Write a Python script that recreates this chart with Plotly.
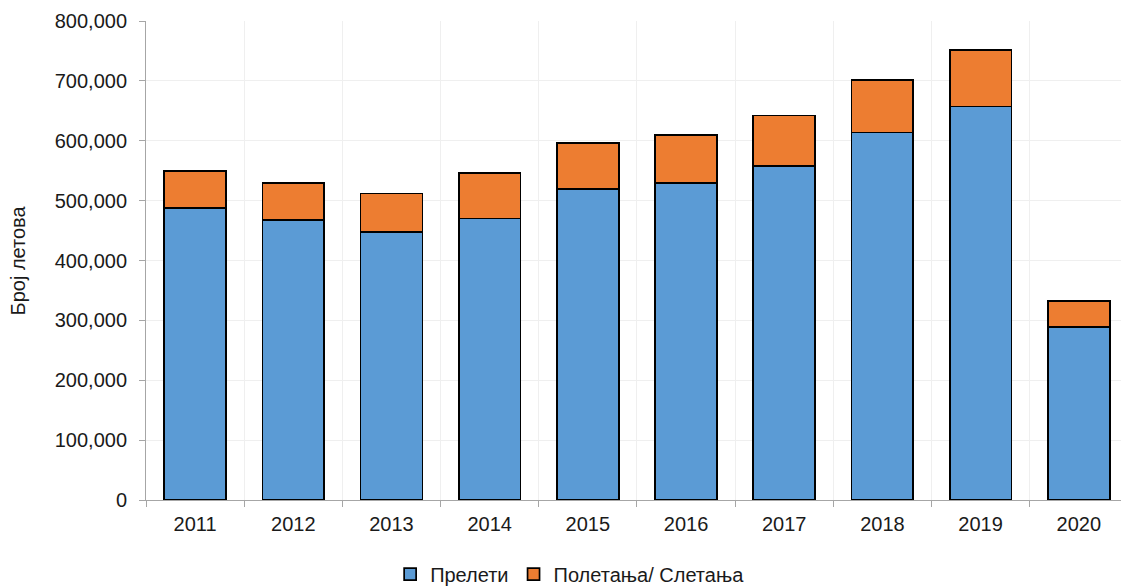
import plotly.graph_objects as go

years = ["2011", "2012", "2013", "2014", "2015", "2016", "2017", "2018", "2019", "2020"]
overflights = [488000, 468000, 448000, 470000, 519000, 530000, 558000, 614000, 657000, 289000]
departures_arrivals = [62000, 61000, 64000, 76000, 77000, 80000, 84000, 88000, 95000, 43000]
y_ticks = [0, 100000, 200000, 300000, 400000, 500000, 600000, 700000, 800000]

FONT = "Liberation Sans, Arial, sans-serif"

fig = go.Figure()
fig.add_trace(go.Bar(
    x=years, y=overflights, name="Прелети",
    marker=dict(color="#5B9BD5", line=dict(color="#000000", width=1.7)),
))
fig.add_trace(go.Bar(
    x=years, y=departures_arrivals, name="Полетања/ Слетања",
    marker=dict(color="#ED7D31", line=dict(color="#000000", width=1.7)),
))

fig.update_layout(
    barmode="stack",
    bargap=0.37,
    width=1121, height=587,
    margin=dict(l=146, r=0, t=21, b=87),
    plot_bgcolor="white", paper_bgcolor="white",
    font=dict(family=FONT, size=20, color="#1a1a1a"),
    legend=dict(
        orientation="h", x=0.435, xanchor="center",
        yref="container", y=0.022, yanchor="middle",
        font=dict(size=20), itemwidth=30, traceorder="normal",
    ),
    annotations=[dict(
        text="Број летова", textangle=-90, xref="paper", yref="paper",
        x=-0.1313, y=0.5, xanchor="center", yanchor="middle", showarrow=False,
        font=dict(size=20, family=FONT, color="#1a1a1a"),
    )],
)
fig.update_xaxes(
    type="category", tickson="boundaries", range=[-0.5, 9.43],
    showgrid=True, gridcolor="#efefef", gridwidth=1,
    showline=True, linecolor="#a6a6a6", linewidth=1,
    ticks="outside", ticklen=6, tickcolor="#a6a6a6",
    tickfont=dict(size=20), ticklabelstandoff=6,
)
fig.update_yaxes(
    range=[0, 800000], tickvals=y_ticks, tickformat=",",
    showgrid=True, gridcolor="#efefef", gridwidth=1,
    showline=True, linecolor="#a6a6a6", linewidth=1,
    ticks="outside", ticklen=6, tickcolor="#a6a6a6",
    tickfont=dict(size=20), zeroline=False, ticklabelstandoff=8,
)

fig.write_html(
    "out.html",
    config={"displayModeBar": False},
    post_script="document.documentElement.style.margin='0';document.body.style.margin='0';document.body.style.overflow='hidden';",
)
